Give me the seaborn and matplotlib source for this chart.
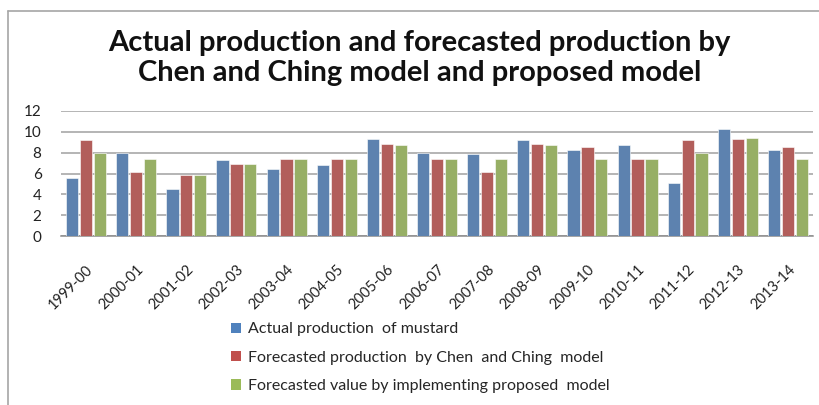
import matplotlib
matplotlib.use("Agg")
import matplotlib.pyplot as plt
import seaborn as sns
import pandas as pd
from matplotlib.patches import Patch
from matplotlib.lines import Line2D

years = ["1999-00", "2000-01", "2001-02", "2002-03", "2003-04", "2004-05", "2005-06",
         "2006-07", "2007-08", "2008-09", "2009-10", "2010-11", "2011-12", "2012-13", "2013-14"]
actual = [5.6, 8.0, 4.5, 7.3, 6.4, 6.8, 9.3, 8.0, 7.9, 9.2, 8.3, 8.7, 5.1, 10.3, 8.3]
chen_ching = [9.2, 6.1, 5.9, 6.9, 7.4, 7.4, 8.8, 7.4, 6.1, 8.8, 8.5, 7.4, 9.2, 9.3, 8.5]
proposed = [8.0, 7.4, 5.9, 6.9, 7.4, 7.4, 8.7, 7.4, 7.4, 8.7, 7.4, 7.4, 8.0, 9.4, 7.4]
series_names = ["Actual production  of mustard",
                "Forecasted production  by Chen  and Ching  model",
                "Forecasted value by implementing proposed  model"]
colors = ["#4F81BD", "#C0504D", "#9BBB59"]
title = "Actual production and forecasted production by\nChen and Ching model and proposed model"
yticks = [0, 2, 4, 6, 8, 10, 12]

df = pd.DataFrame({
    "year": years * 3,
    "value": actual + chen_ching + proposed,
    "series": [series_names[0]] * len(years) + [series_names[1]] * len(years) + [series_names[2]] * len(years),
})

sns.set_theme(style="white")
plt.rcParams["font.family"] = ["Lato", "DejaVu Sans"]

W, H = 820, 405
fig = plt.figure(figsize=(W / 100, H / 100), dpi=100)
ax = fig.add_axes([61 / W, 1 - 236 / H, (813 - 61) / W, (236 - 111) / H])

sns.barplot(data=df, x="year", y="value", hue="series", hue_order=series_names,
            palette=colors, order=years, width=0.83, gap=0.12, ax=ax,
            edgecolor="white", linewidth=0.4, legend=False, zorder=3)

ax.set_ylim(0, 12)
ax.set_xlim(-0.5, len(years) - 0.5)
ax.set_yticks(yticks)
ax.set_yticklabels([str(t) for t in yticks], fontsize=11, color="#222222")
ax.yaxis.grid(True, color="#A0A0A0", linewidth=1.1, zorder=0)
ax.set_axisbelow(True)
for s in ["top", "right", "left"]:
    ax.spines[s].set_visible(False)
ax.spines["bottom"].set_color("#8C8C8C")
ax.spines["bottom"].set_linewidth(1.1)
ax.tick_params(axis="y", length=0, pad=14)
ax.tick_params(axis="x", length=0, pad=19)
ax.set_xlabel("")
ax.set_ylabel("")
for lab in ax.get_xticklabels():
    lab.set_rotation(45)
    lab.set_ha("right")
    lab.set_rotation_mode("anchor")
    lab.set_fontsize(10.5)
    lab.set_color("#222222")

fig.text(0.512, 1 - 58 / H, title, ha="center", va="center", fontsize=21,
         fontweight="bold", linespacing=1.22, color="#111111")

handles = [Patch(facecolor=c, edgecolor="none") for c in colors]
fig.legend(handles, series_names, loc="upper left",
           bbox_to_anchor=(225 / W, 1 - 316 / H), frameon=False, fontsize=11.5,
           handlelength=0.6, handleheight=0.6, handletextpad=0.45,
           labelspacing=0.9, borderaxespad=0)

# chart frame border
fig.add_artist(Line2D([8 / W, 8 / W], [0, 1 - 11 / H], transform=fig.transFigure,
                      color="#A6A6A6", linewidth=1.2))
fig.add_artist(Line2D([8 / W, 1], [1 - 11 / H, 1 - 11 / H], transform=fig.transFigure,
                      color="#A6A6A6", linewidth=1.2))

fig.savefig("out.png", dpi=100, facecolor="white")
